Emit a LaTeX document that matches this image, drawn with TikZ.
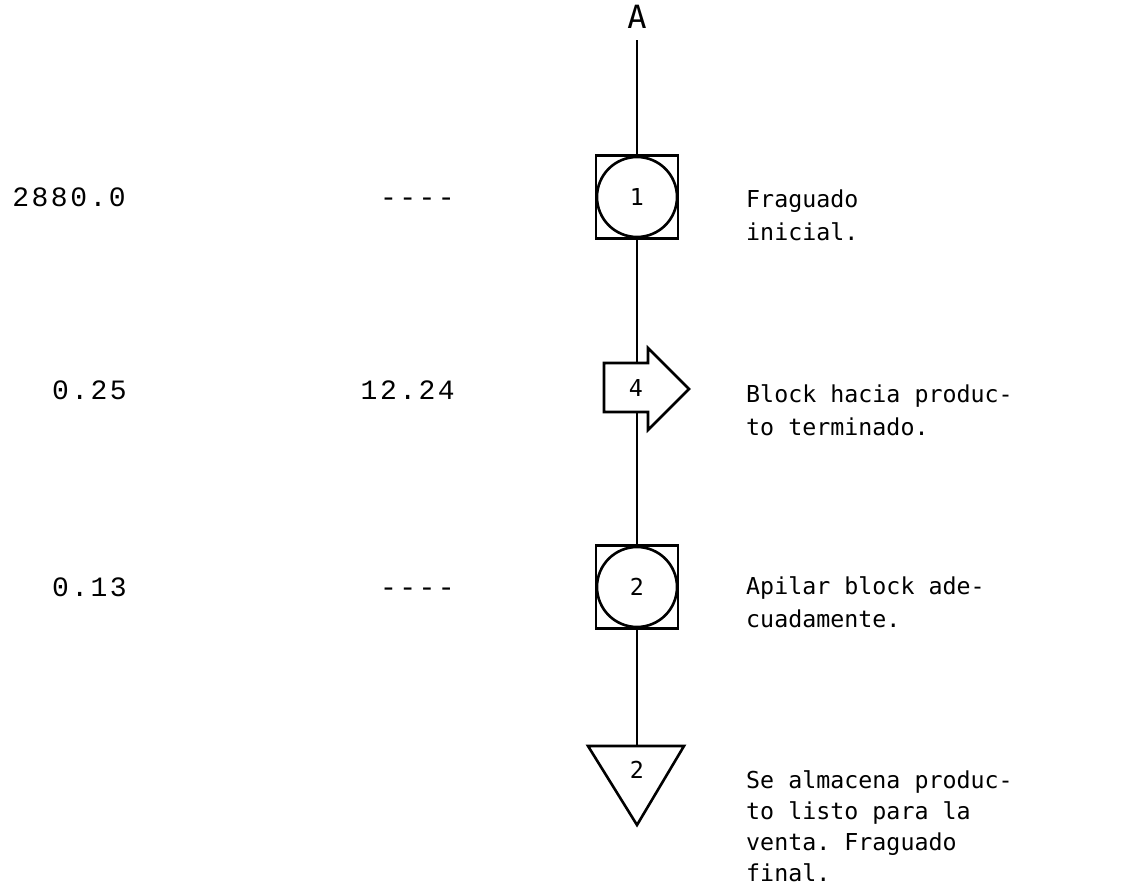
\documentclass[tikz,border=0pt]{standalone}
\usepackage{fontspec}
\newfontfamily\dotfont{DejaVu Sans Mono}
\newfontfamily\numfont[LetterSpace=9]{Liberation Mono}
\tikzset{
  dot/.style={font=\dotfont\fontsize{23.3}{33}\selectfont, inner sep=0pt},
  num/.style={font=\numfont\fontsize{28}{30}\selectfont, inner sep=0pt, anchor=base east},
  desc/.style={dot, anchor=base west},
  sqbox/.style={draw, minimum width=82pt, minimum height=83pt, inner sep=0pt},
  circ/.style={draw, circle, minimum size=80pt, inner sep=0pt, dot},
  flow/.style={line width=2.4pt},
  shp/.style={line width=2.6pt, line join=miter}
}
\begin{document}
\frenchspacing
\begin{tikzpicture}[x=1pt,y=-1pt]
\useasboundingbox (0,0) rectangle (1125,886);
% top label
\node[dot, font=\dotfont\fontsize{32}{34}\selectfont] (A) at (637,17) {A};
\coordinate (top) at (637,40);
% operation 1
\node[sqbox, shp] (s1) at (637,197) {};
\node[circ, shp] (c1) at (637,197) {1};
% transport 4
\coordinate (a4top) at (637,363);
\coordinate (a4bot) at (637,412);
\draw[shp] (604,363) -- (648,363) -- (648,348) -- (689,389) -- (648,430) -- (648,412) -- (604,412) -- cycle;
\node[dot] (t4) at (636,388) {4};
% operation 2
\node[sqbox, shp] (s2) at (637,587) {};
\node[circ, shp] (c2) at (637,587) {2};
% storage 2
\coordinate (tri) at (637,746);
\draw[shp] (588,746) -- (684,746) -- (637,825) -- cycle;
\node[dot] (t2) at (637,770) {2};
% connectors
\draw[flow] (top) -- (s1.north);
\draw[flow] (s1.south) -- (a4top);
\draw[flow] (a4bot) -- (s2.north);
\draw[flow] (s2.south) -- (tri);
% left columns
\node[num] (n1) at (126,206) {2880.0};
\node[num] (m1) at (455,206) {----};
\node[num] (n2) at (127,399) {0.25};
\node[num] (m2) at (455,399) {12.24};
\node[num] (n3) at (127,596) {0.13};
\node[num] (m3) at (455,596) {----};
% descriptions
\node[desc] (d1) at (746,207) {\parbox[t]{330pt}{Fraguado\\inicial.}};
\node[desc] (d2) at (746,402) {\parbox[t]{330pt}{Block hacia produc-\\to terminado.}};
\node[desc] (d3) at (746,594) {\parbox[t]{330pt}{Apilar block ade-\\cuadamente.}};
\node[desc, font=\dotfont\fontsize{23.3}{31}\selectfont] (d4) at (746,788) {\parbox[t]{330pt}{Se almacena produc-\\to listo para la\\venta. Fraguado\\final.}};
\end{tikzpicture}
\end{document}
